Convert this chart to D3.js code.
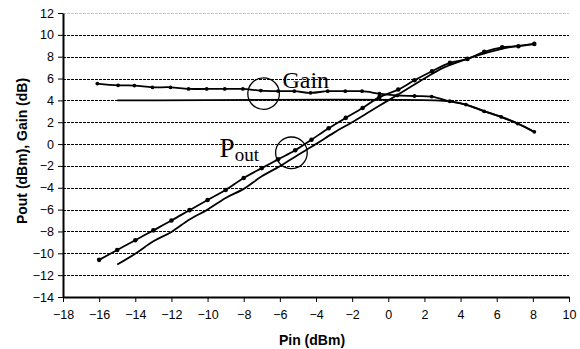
<!DOCTYPE html>
<html>
<head>
<meta charset="utf-8">
<script src="https://cdn.jsdelivr.net/npm/d3@7"></script>
<style>
  body { margin: 0; background: #fff; }
  svg { display: block; }
  .axis text { font-family: Arial, 'Liberation Sans', sans-serif; font-size: 12.5px; fill: #000; }
  .axis path, .axis line { stroke: #000; }
  .title { font-family: Arial, 'Liberation Sans', sans-serif; font-weight: bold; font-size: 14px; }
  .note { font-family: 'Times New Roman', 'Liberation Serif', serif; fill: #000; }
</style>
</head>
<body>
<div class="chart"><svg></svg></div>
<script>
// measured output power (with dots)
const pinPout = [-16, -15, -14, -13, -12, -11, -10, -9, -8, -7, -6.1, -5.15, -4.25, -3.3, -2.35, -1.42, -0.49, 0.55, 1.45, 2.42, 3.41, 4.38, 5.31, 6.3, 7.2, 8.08]
const poutMeas = [-10.6, -9.7, -8.8, -7.9, -7.0, -6.05, -5.12, -4.2, -3.1, -2.2, -1.4, -0.57, 0.4, 1.45, 2.4, 3.3, 4.3, 4.99, 5.84, 6.67, 7.43, 7.8, 8.44, 8.86, 8.96, 9.17]

// measured gain (with dots)
const pinGain = [-16.1, -14.95, -14.05, -13.05, -12.05, -11.05, -10.05, -9.05, -8.05, -7.05, -6.1, -5.2, -4.3, -3.35, -2.38, -1.45, -0.49, 0.5, 1.45, 2.4, 3.4, 4.3, 5.3, 6.25, 7.16, 8.08]
const gainMeas = [5.54, 5.38, 5.36, 5.2, 5.2, 5.05, 5.05, 5.05, 5.05, 4.9, 4.85, 4.84, 4.69, 4.84, 4.84, 4.84, 4.62, 4.45, 4.4, 4.35, 3.92, 3.62, 3.0, 2.49, 1.88, 1.12]

// simulated curves (plain lines)
const pinPoutSim = [-15, -14, -13, -12, -11, -10, -9, -8, -7, -6, -5, -4, -3, -2, -1, 0, 1, 2, 3, 4, 5, 6, 7, 8.08]
const poutSim = [-11.03, -10.03, -8.9, -8.04, -6.9, -6.0, -4.93, -4.1, -2.95, -2.03, -1.0, 0.0, 1.05, 2.0, 3.0, 4.0, 5.0, 6.0, 6.95, 7.6, 8.15, 8.6, 8.95, 9.15]
const pinGainSim = [-15, 2.6, 3.4, 4.4, 5.3, 6.3, 7.2, 8.08]
const gainSim = [4.0, 4.0, 3.9, 3.55, 3.02, 2.45, 1.85, 1.1]

const xTicks = d3.range(-18, 11, 2)
const yTicks = d3.range(-14, 13, 2)

// callouts: circle centre in data units
const gainMark = { x: -6.9, y: 4.62, label: 'Gain' }
const poutMark = { x: -5.36, y: -0.8, label: 'P', sub: 'out' }

function chart () {
  const margin = { top: 13, right: 11, bottom: 52, left: 63 }
  const w = 580
  const h = 349
  const width = w - margin.left - margin.right
  const height = h - margin.top - margin.bottom

  const svg = d3.select('.chart svg').attr('width', w).attr('height', h)
  const g = svg.append('g').attr('transform', `translate(${margin.left},${margin.top})`)

  const x = d3.scaleLinear().domain([-18, 10]).range([0, width])
  const y = d3.scaleLinear().domain([-14, 12]).range([height, 0])

  // gridlines
  g.append('g')
    .selectAll('line')
    .data(yTicks.filter(d => d > -14))
    .join('line')
    .attr('x1', 0)
    .attr('x2', width)
    .attr('y1', d => Math.round(y(d)) + 0.5)
    .attr('y2', d => Math.round(y(d)) + 0.5)
    .attr('stroke', d => d === 12 ? '#c8c8c8' : '#000')
    .attr('stroke-width', 1)
    .attr('stroke-dasharray', '3,1')
    .attr('shape-rendering', 'crispEdges')

  const zip = (xs, ys) => xs.map((d, i) => [d, ys[i]])

  const line = d3.line()
    .x(d => x(d[0]))
    .y(d => y(d[1]))
    .curve(d3.curveCatmullRom.alpha(0.5))

  const series = [
    { pts: zip(pinPoutSim, poutSim), dots: false },
    { pts: zip(pinGainSim, gainSim), dots: false },
    { pts: zip(pinGain, gainMeas), dots: true, r: 1.9 },
    { pts: zip(pinPout, poutMeas), dots: true, r: 2.3 }
  ]

  series.forEach(s => {
    g.append('path')
      .datum(s.pts)
      .attr('fill', 'none')
      .attr('stroke', '#000')
      .attr('stroke-width', 1.8)
      .attr('d', line)
    if (s.dots) {
      g.append('g')
        .selectAll('circle')
        .data(s.pts)
        .join('circle')
        .attr('cx', d => x(d[0]))
        .attr('cy', d => y(d[1]))
        .attr('r', s.r)
        .attr('fill', '#000')
    }
  })

  // axes
  const axisX = d3.axisBottom(x).tickValues(xTicks).tickSizeInner(5).tickSizeOuter(0).tickPadding(8)
  g.append('g')
    .attr('class', 'axis axis-x')
    .attr('transform', `translate(0,${height})`)
    .call(axisX)
    .call(a => a.select('.domain').attr('stroke-width', 2))

  const axisY = d3.axisLeft(y).tickValues(yTicks).tickSizeInner(5).tickSizeOuter(0).tickPadding(4)
  g.append('g')
    .attr('class', 'axis axis-y')
    .call(axisY)
    .call(a => a.select('.domain').attr('stroke-width', 2))

  // callouts
  const r = 15.8
  ;[gainMark, poutMark].forEach(m => {
    g.append('circle')
      .attr('cx', x(m.x))
      .attr('cy', y(m.y))
      .attr('r', r)
      .attr('fill', 'none')
      .attr('stroke', '#000')
      .attr('stroke-width', 1.3)
  })

  g.append('text')
    .attr('class', 'note')
    .attr('x', x(gainMark.x) + r + 3)
    .attr('y', y(gainMark.y) - 6)
    .attr('font-size', 24)
    .text(gainMark.label)

  const pt = g.append('text')
    .attr('class', 'note')
    .attr('x', x(poutMark.x) - r - 56)
    .attr('y', y(poutMark.y) + 4)
    .attr('font-size', 27)
  pt.append('tspan').text(poutMark.label)
  pt.append('tspan').attr('font-size', 19).attr('dy', 4.5).text(poutMark.sub)

  // axis titles
  svg.append('text')
    .attr('class', 'title')
    .attr('x', 312)
    .attr('y', 345)
    .attr('text-anchor', 'middle')
    .text('Pin (dBm)')

  svg.append('text')
    .attr('class', 'title')
    .attr('transform', 'translate(27,151) rotate(-90)')
    .attr('text-anchor', 'middle')
    .text('Pout (dBm), Gain (dB)')
}

chart()
</script>
</body>
</html>
